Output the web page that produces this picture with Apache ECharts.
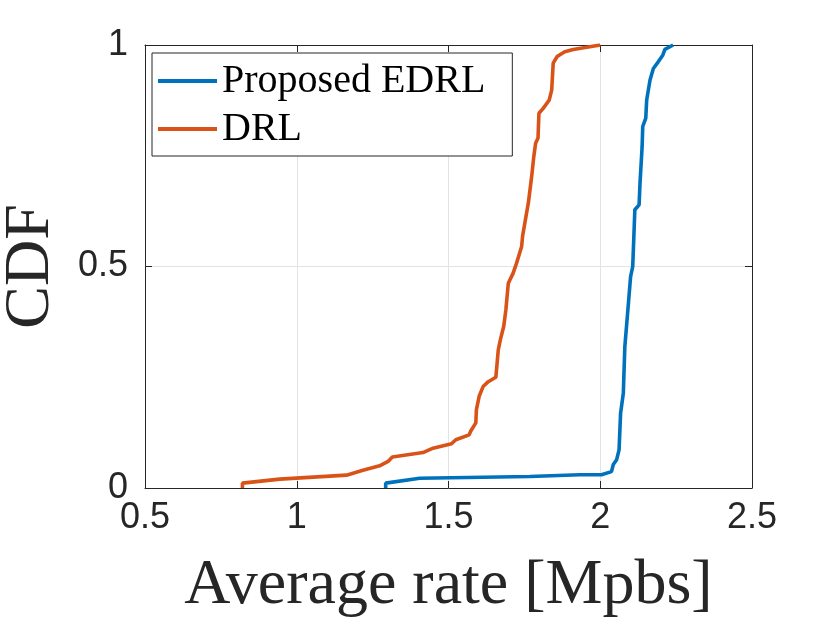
<!DOCTYPE html>
<html>
<head>
<meta charset="utf-8">
<script src="https://cdn.jsdelivr.net/npm/echarts@6/dist/echarts.min.js"></script>
<style>
html, body { margin: 0; padding: 0; background: #fff; }
#main { width: 830px; height: 623px; }
</style>
</head>
<body>
<div id="main"></div>
<script>
var xTicks = [0.5, 1, 1.5, 2, 2.5];
var yTicks = [0, 0.5, 1];

var edrlRate = [1.293, 1.293, 1.405, 1.768, 1.933, 2.004, 2.037, 2.043, 2.054, 2.062, 2.067, 2.076, 2.081, 2.092, 2.100, 2.107, 2.114, 2.128, 2.131, 2.138, 2.140, 2.150, 2.153, 2.164, 2.175, 2.191, 2.206, 2.213, 2.240];
var edrlCdf = [0, 0.011, 0.022, 0.026, 0.030, 0.030, 0.037, 0.053, 0.064, 0.086, 0.169, 0.214, 0.319, 0.410, 0.477, 0.500, 0.628, 0.639, 0.688, 0.771, 0.816, 0.835, 0.876, 0.921, 0.947, 0.962, 0.977, 0.990, 1.000];

var drlRate = [0.821, 0.821, 0.944, 1.164, 1.218, 1.273, 1.301, 1.315, 1.416, 1.449, 1.510, 1.524, 1.568, 1.573, 1.590, 1.592, 1.601, 1.614, 1.631, 1.656, 1.664, 1.671, 1.682, 1.689, 1.697, 1.713, 1.724, 1.741, 1.744, 1.757, 1.763, 1.774, 1.781, 1.787, 1.795, 1.798, 1.812, 1.832, 1.840, 1.845, 1.858, 1.883, 1.911, 2.000];
var drlCdf = [0, 0.011, 0.020, 0.029, 0.040, 0.050, 0.060, 0.070, 0.080, 0.090, 0.100, 0.109, 0.120, 0.128, 0.147, 0.177, 0.207, 0.229, 0.240, 0.250, 0.312, 0.335, 0.365, 0.402, 0.462, 0.485, 0.507, 0.545, 0.568, 0.620, 0.643, 0.703, 0.748, 0.778, 0.790, 0.846, 0.857, 0.876, 0.898, 0.959, 0.974, 0.985, 0.990, 1.000];

function pairs(xs, ys) {
    var out = [];
    for (var i = 0; i < xs.length; i++) out.push([xs[i], ys[i]]);
    return out;
}

var ink = '#262626';
var serif = '"Liberation Serif", "DejaVu Serif", serif';
var sans = '"Liberation Sans", Arial, sans-serif';

var myChart = echarts.init(document.getElementById('main'));
var option = {
    animation: false,
    backgroundColor: '#fff',
    grid: { left: 145, right: 78, top: 45, bottom: 135, containLabel: false, outerBoundsMode: 'none' },
    legend: {
        orient: 'vertical',
        left: 152,
        top: 53,
        padding: [8, 27, 7, 6],
        itemGap: 8,
        itemWidth: 59,
        itemHeight: 4,
        itemTextGap: 6,
        icon: 'rect',
        backgroundColor: '#fff',
        borderColor: ink,
        borderWidth: 1,
        borderRadius: 0,
        textStyle: { fontFamily: serif, fontSize: 40, color: '#000' },
        data: ['Proposed EDRL', 'DRL']
    },
    xAxis: [
        {
            type: 'value', min: 0.5, max: 2.5, interval: 0.5,
            name: 'Average rate [Mpbs]', nameLocation: 'middle', nameGap: 66,
            nameTextStyle: { fontFamily: serif, fontSize: 64, color: ink },
            axisLine: { show: true, onZero: false, lineStyle: { color: ink, width: 1 } },
            axisTick: { show: true, inside: true, length: 7, lineStyle: { color: ink } },
            axisLabel: { fontFamily: sans, fontSize: 36, color: ink, margin: 12,
                formatter: function (v) { return xTicks.indexOf(v) >= 0 ? String(v) : ''; } },
            splitLine: { show: true, lineStyle: { color: '#e3e3e3', width: 1 } }
        },
        {
            type: 'value', min: 0.5, max: 2.5, interval: 0.5, position: 'top',
            axisLine: { show: true, onZero: false, lineStyle: { color: ink, width: 1 } },
            axisTick: { show: true, inside: true, length: 7, lineStyle: { color: ink } },
            axisLabel: { show: false },
            splitLine: { show: false }
        }
    ],
    yAxis: [
        {
            type: 'value', min: 0, max: 1, interval: 0.5,
            name: 'CDF', nameLocation: 'middle', nameGap: 82, nameRotate: 90,
            nameTextStyle: { fontFamily: serif, fontSize: 64, color: ink },
            axisLine: { show: true, onZero: false, lineStyle: { color: ink, width: 1 } },
            axisTick: { show: true, inside: true, length: 7, lineStyle: { color: ink } },
            axisLabel: { fontFamily: sans, fontSize: 36, color: ink, margin: 17,
                formatter: function (v) { return yTicks.indexOf(v) >= 0 ? String(v) : ''; } },
            splitLine: { show: true, lineStyle: { color: '#e3e3e3', width: 1 } }
        },
        {
            type: 'value', min: 0, max: 1, interval: 0.5, position: 'right',
            axisLine: { show: true, onZero: false, lineStyle: { color: ink, width: 1 } },
            axisTick: { show: true, inside: true, length: 7, lineStyle: { color: ink } },
            axisLabel: { show: false },
            splitLine: { show: false }
        }
    ],
    series: [
        {
            name: 'Proposed EDRL', type: 'line', showSymbol: false, symbol: 'none',
            color: '#0072BD', lineStyle: { width: 3.6, color: '#0072BD' },
            data: pairs(edrlRate, edrlCdf)
        },
        {
            name: 'DRL', type: 'line', showSymbol: false, symbol: 'none',
            color: '#D95319', lineStyle: { width: 3.6, color: '#D95319' },
            data: pairs(drlRate, drlCdf)
        }
    ]
};
myChart.setOption(option);
</script>
</body>
</html>
